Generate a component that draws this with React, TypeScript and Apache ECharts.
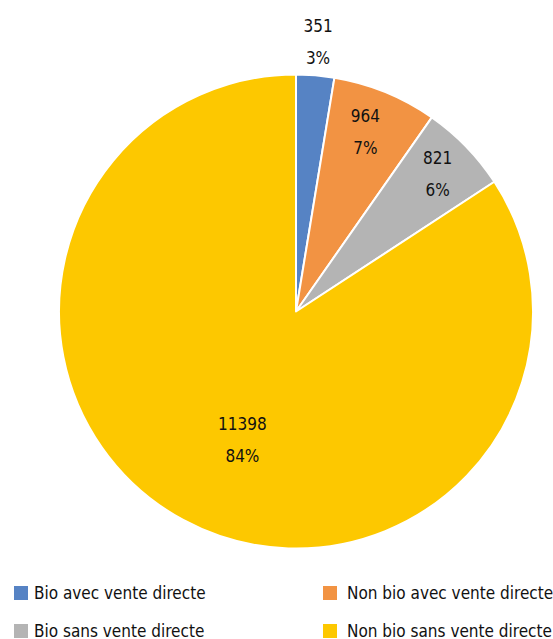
import React, { useEffect, useRef } from "react";
import * as echarts from "echarts";

const categories = [
  "Bio avec vente directe",
  "Non bio avec vente directe",
  "Bio sans vente directe",
  "Non bio sans vente directe",
];
const values = [351, 964, 821, 11398];
const colors = ["#5683C4", "#F29343", "#B4B4B4", "#FDC800"];
// radial position of each label, as a fraction of the pie radius
const labelRadius = [1.129, 0.799, 0.819, 0.573];
// small angular shift (degrees, clockwise) of each label away from its slice's mid angle
const labelAngleShift = [0, -1, 0, -5.7];

const FONT = "'DejaVu Sans Condensed', Roboto, sans-serif";
const R = 237;
const CENTER = [296, 311.5];
// legend grid: column (0 left, 1 right) and row of each category
const legendCol = [0, 1, 0, 1];
const legendRow = [0, 0, 1, 1];

export default function App() {
  const ref = useRef<HTMLDivElement>(null);
  useEffect(() => {
    if (!ref.current) return;
    const chart = echarts.init(ref.current, undefined, { renderer: "svg" });
    const data = categories.map((name, i) => ({
      name,
      value: values[i],
      itemStyle: { color: colors[i] },
    }));
    const ghostSeries = categories.map((_, k) => ({
      type: "pie",
      silent: true,
      legendHoverLink: false,
      center: CENTER,
      radius: [0, 2 * labelRadius[k] * R],
      startAngle: 90 - labelAngleShift[k],
      clockwise: true,
      emphasis: { disabled: true },
      itemStyle: { color: "rgba(0,0,0,0)", borderWidth: 0 },
      labelLine: { show: false },
      data: categories.map((name, i) => ({
        name: name + " ",
        value: values[i],
        label: {
          show: i === k,
          position: "inside",
          formatter: (p: any) => `${p.value}\n${Math.round(p.percent)}%`,
          fontFamily: FONT,
          fontSize: 17,
          lineHeight: 32,
          color: "#111",
        },
      })),
    }));
    const legends = categories.map((name, i) => ({
      data: [name],
      left: legendCol[i] === 0 ? 12 : 321,
      top: legendRow[i] === 0 ? 584 : 622,
      itemWidth: 16,
      itemHeight: 16,
      icon: "rect",
      selectedMode: false,
      padding: 0,
      itemGap: 0,
      textStyle: {
        fontFamily: FONT,
        fontSize: 17,
        lineHeight: 16,
        color: "#111",
        padding: [0, 0, 0, legendCol[i] === 0 ? 0 : 4],
      },
    }));
    chart.setOption({
      animation: false,
      legend: legends,
      series: [
        {
          type: "pie",
          center: CENTER,
          radius: [0, R],
          startAngle: 90,
          clockwise: true,
          silent: true,
          itemStyle: { borderColor: "#fff", borderWidth: 2 },
          label: { show: false },
          labelLine: { show: false },
          data,
        },
        ...ghostSeries,
      ],
    });
    return () => chart.dispose();
  }, []);
  return (
    <div
      ref={ref}
      style={{ position: "fixed", left: 0, top: 0, width: 553, height: 639, background: "#fff" }}
    />
  );
}
